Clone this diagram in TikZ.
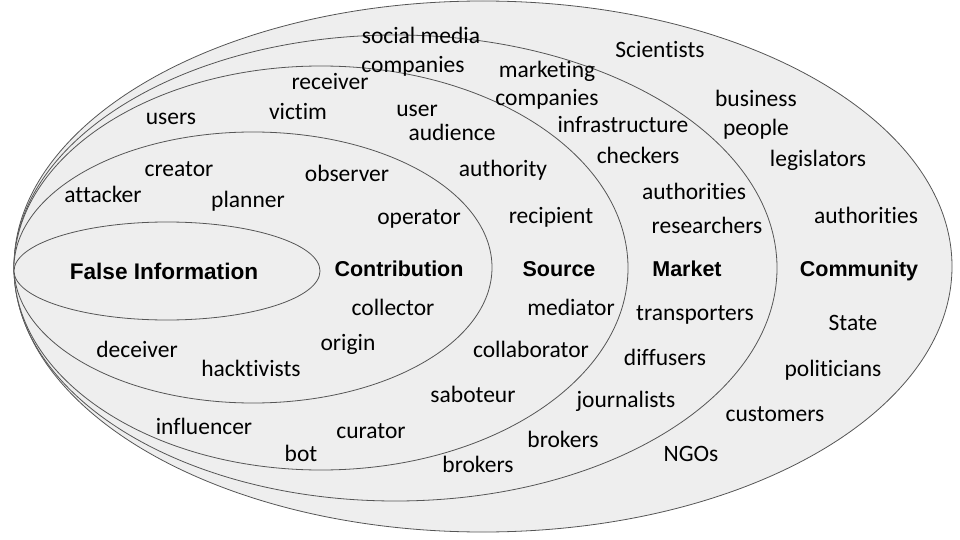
\documentclass[tikz,border=0pt]{standalone}
\usepackage{fontspec}
\setmainfont{Carlito}[Ligatures=NoCommon]
\newfontfamily\arialfont{Liberation Sans}
\usetikzlibrary{shapes.geometric}
\definecolor{ringfill}{HTML}{EEEEEE}
\definecolor{ringline}{HTML}{555555}
\tikzset{
  ring/.style={ellipse, draw=ringline, fill=ringfill, line width=0.8pt, inner sep=0pt, outer sep=0pt},
  lbl/.style={anchor=base, inner sep=0pt, font=\fontsize{23.5}{28}\selectfont, text=black},
  head/.style={anchor=base, inner sep=0pt, font=\arialfont\bfseries\fontsize{21.5}{26}\selectfont, text=black}
}
\begin{document}
\begin{tikzpicture}[x=1pt,y=-1pt]
\useasboundingbox (0,0) rectangle (960,540);
% rings
\node[ring, minimum width=938pt, minimum height=531pt] (community) at (483,266.5) {};
\node[ring, minimum width=763pt, minimum height=466pt] (market) at (395.5,268) {};
\node[ring, minimum width=614pt, minimum height=404pt] (source) at (321,268) {};
\node[ring, minimum width=478pt, minimum height=271pt] (contribution) at (253,267.5) {};
\node[ring, minimum width=306pt, minimum height=98pt] (falseinfo) at (167,271) {};
% headings
\node[head, font=\arialfont\bfseries\fontsize{22.6}{27}\selectfont] (hfalse) at (164,279) {False Information};
\node[head] (hcontr) at (399,276) {Contribution};
\node[head] (hsource) at (559,276) {Source};
\node[head] (hmarket) at (687,276) {Market};
\node[head] (hcomm) at (859,276) {Community};
% contribution ring
\node[lbl] (attacker) at (103,202) {attacker};
\node[lbl] (creator) at (179,176) {creator};
\node[lbl] (planner) at (248,207) {planner};
\node[lbl] (observer) at (347,182) {observer};
\node[lbl] (operator) at (419,224) {operator};
\node[lbl] (collector) at (393,315) {collector};
\node[lbl] (origin) at (348,350) {origin};
\node[lbl] (deceiver) at (137,357) {deceiver};
\node[lbl] (hacktivists) at (251,376) {hacktivists};
% source ring
\node[lbl] (users) at (171,125) {users};
\node[lbl] (victim) at (298,120) {victim};
\node[lbl] (receiver) at (330,90) {receiver};
\node[lbl] (user) at (417,117) {user};
\node[lbl] (audience) at (452,141) {audience};
\node[lbl] (authority) at (503,177) {authority};
\node[lbl] (recipient) at (551,223) {recipient};
\node[lbl] (mediator) at (571,315) {mediator};
\node[lbl] (collaborator) at (531,357) {collaborator};
\node[lbl] (saboteur) at (473,402) {saboteur};
\node[lbl] (influencer) at (204,434) {influencer};
\node[lbl] (bot) at (301,461) {bot};
\node[lbl] (curator) at (371,438) {curator};
\node[lbl] (brokersA) at (478,472) {brokers};
% market ring
\node[lbl] (socialmedia) at (421,44) {social media};
\node[lbl] (companiesA) at (413,73) {companies};
\node[lbl] (marketing) at (547,78) {marketing};
\node[lbl] (companiesB) at (547,106) {companies};
\node[lbl] (infrastructure) at (623,133) {infrastructure};
\node[lbl] (checkers) at (638,164) {checkers};
\node[lbl] (authoritiesA) at (694,199) {authorities};
\node[lbl] (researchers) at (707,233) {researchers};
\node[lbl] (transporters) at (695,320) {transporters};
\node[lbl] (diffusers) at (665,365) {diffusers};
\node[lbl] (journalists) at (626,407) {journalists};
\node[lbl] (brokersB) at (563,447) {brokers};
% community ring
\node[lbl] (scientists) at (660,58) {Scientists};
\node[lbl] (business) at (756,107) {business};
\node[lbl] (people) at (756,136) {people};
\node[lbl] (legislators) at (818,167) {legislators};
\node[lbl] (authoritiesB) at (866,223) {authorities};
\node[lbl] (state) at (853,330) {State};
\node[lbl] (politicians) at (833,376) {politicians};
\node[lbl] (customers) at (775,421) {customers};
\node[lbl] (ngos) at (691,461) {NGOs};
\end{tikzpicture}
\end{document}
